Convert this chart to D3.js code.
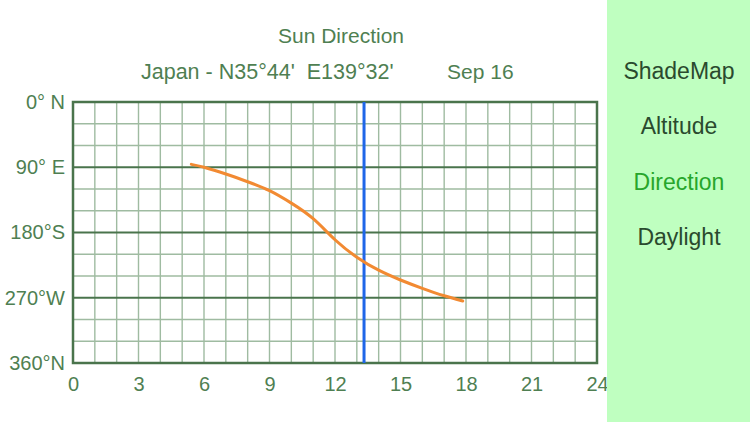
<!DOCTYPE html>
<html><head><meta charset="utf-8">
<script src="https://cdn.jsdelivr.net/npm/d3@7"></script>
<style>
html,body{margin:0;padding:0;background:#fff;}
svg{display:block;font-family:"Liberation Sans",Arial,sans-serif;}
</style></head>
<body><svg id="c" width="750" height="422"></svg>
<script>
const title = "Sun Direction";
const subtitle = "Japan - N35°44'  E139°32'";
const dateLabel = "Sep 16";
const menuItems = ["ShadeMap", "Altitude", "Direction", "Daylight"];
const activeMenu = "Direction";

const xTicks = [0, 3, 6, 9, 12, 15, 18, 21, 24];
const yTicks = [0, 90, 180, 270, 360];
const yTickLabels = ["0° N", "90° E", "180°S", "270°W", "360°N"];

const hours   = [5.42, 6.0, 7.0, 8.0, 9.0, 10.0, 11.0, 12.0, 13.0, 14.0, 15.0, 16.0, 17.0, 17.85];
const azimuth = [86.0, 90.0, 99.3, 110.0, 122.3, 139.5, 161.0, 190.0, 214.0, 232.0, 245.5, 257.0, 267.3, 274.5];
const currentHour = 13.33;

const svg = d3.select("#c");
const m = {l: 73, r: 597, t: 102, b: 363};
const x = d3.scaleLinear().domain([0, 24]).range([m.l, m.r]);
const y = d3.scaleLinear().domain([0, 360]).range([m.t, m.b]);

const textCol = "#4f7f52";
const majorCol = "#4a744c";
const minorCol = "#9fbba1";

const g = svg.append("g");
g.selectAll("line.vx").data(d3.range(1, 24)).join("line")
  .attr("x1", d => x(d)).attr("x2", d => x(d)).attr("y1", m.t).attr("y2", m.b)
  .attr("stroke", minorCol).attr("stroke-width", 1.4);
g.selectAll("line.hy").data(d3.range(30, 360, 30).filter(d => d % 90 !== 0)).join("line")
  .attr("y1", d => y(d)).attr("y2", d => y(d)).attr("x1", m.l).attr("x2", m.r)
  .attr("stroke", minorCol).attr("stroke-width", 1.4);
g.selectAll("line.my").data([90, 180, 270]).join("line")
  .attr("y1", d => y(d)).attr("y2", d => y(d)).attr("x1", m.l).attr("x2", m.r)
  .attr("stroke", majorCol).attr("stroke-width", 2.2);
g.append("rect").attr("x", m.l).attr("y", m.t).attr("width", m.r - m.l).attr("height", m.b - m.t)
  .attr("fill", "none").attr("stroke", majorCol).attr("stroke-width", 2.5);

const yAxis = d3.axisLeft(y).tickValues(yTicks).tickFormat((d, i) => yTickLabels[i]).tickSize(0).tickPadding(8);
const ya = svg.append("g").attr("transform", `translate(${m.l},0)`).call(yAxis);
ya.select(".domain").remove();
ya.selectAll("text").attr("fill", textCol).style("font-size", "20px");

const xAxis = d3.axisBottom(x).tickValues(xTicks).tickFormat(d3.format("d")).tickSize(0).tickPadding(14);
const xa = svg.append("g").attr("transform", `translate(0,${m.b})`).call(xAxis);
xa.select(".domain").remove();
xa.selectAll("text").attr("fill", textCol).style("font-size", "20px");

svg.append("line").attr("x1", x(currentHour)).attr("x2", x(currentHour)).attr("y1", m.t).attr("y2", m.b)
  .attr("stroke", "#1f66e8").attr("stroke-width", 3);

const line = d3.line().x((d, i) => x(hours[i])).y(d => y(d)).curve(d3.curveNatural);
svg.append("path").datum(azimuth).attr("d", line).attr("fill", "none")
  .attr("stroke", "#f28a32").attr("stroke-width", 3).attr("stroke-linecap", "round");

svg.append("text").attr("x", 341).attr("y", 43).attr("text-anchor", "middle")
  .attr("fill", textCol).style("font-size", "21px").text(title);
svg.append("text").attr("x", 141).attr("y", 79).attr("fill", textCol)
  .style("font-size", "21.5px").attr("xml:space", "preserve").text(subtitle);
svg.append("text").attr("x", 447).attr("y", 79).attr("fill", textCol)
  .style("font-size", "21px").text(dateLabel);

svg.append("rect").attr("x", 607).attr("y", 0).attr("width", 143).attr("height", 422).attr("fill", "#bfffc0");
svg.selectAll("text.menu").data(menuItems).join("text")
  .attr("class", "menu")
  .attr("x", 679).attr("y", (d, i) => 79 + i * 55.3).attr("text-anchor", "middle")
  .attr("fill", d => d === activeMenu ? "#27a62b" : "#2a4a2e")
  .style("font-size", "23px").text(d => d);
</script></body></html>
